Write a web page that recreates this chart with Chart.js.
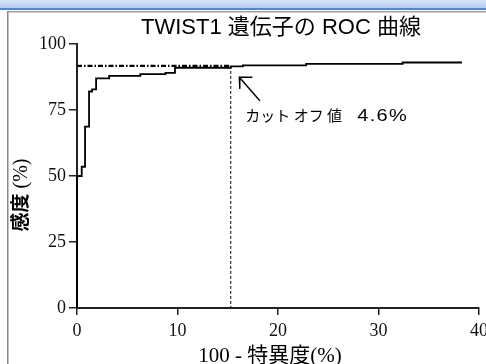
<!DOCTYPE html>
<html><head><meta charset="utf-8">
<script src="https://cdn.jsdelivr.net/npm/chart.js@4.4.1/dist/chart.umd.min.js"></script>
<style>html,body{margin:0;padding:0;background:#fff;overflow:hidden}#wrap{width:486px;height:364px;position:relative}</style>
</head><body><div id="wrap"><canvas id="c" width="486" height="364"></canvas></div>
<script>
// ---- data ----
const rocX = [0, 0, 0.47, 0.8, 1.2, 1.5, 1.9, 3.2, 6.3, 8.8, 9.75, 15.3, 16.5, 22.8, 32.4, 38.3];
const rocY = [0, 50, 53.5, 68.7, 82, 82.8, 87, 87.9, 88.6, 89.1, 91.0, 91.5, 91.9, 92.5, 93.0, 93.0];
const cutoffX = 15.3;
const cutoffY = 91.7;
const xTicks = [0, 10, 20, 30, 40];
const yTicks = [0, 25, 50, 75, 100];
const arrowTail = [18.2, 78.5];
const arrowTip = [16.15, 87.4];
const arrowArmA = [17.45, 87.4];
const arrowArmB = [16.2, 83.0];
const noteAt = [16.75, 71.0];
const titleText = 'TWIST1 遺伝子の ROC 曲線';
const xTitle = '100 - 特異度(%)';
const yTitleMain = '感度';
const yTitleUnit = ' (%)';
const noteText = 'カット オフ 値';
const noteValue = '4.6%';

const pts = (xs, ys) => xs.map((x, i) => ({x, y: ys[i]}));
const line = (data, opts) => Object.assign({data, showLine: true, pointRadius: 0, borderColor: '#000', fill: false, clip: false}, opts);

const deco = {
  id: 'deco',
  beforeDraw(chart) {
    const ctx = chart.ctx, W = chart.width, H = chart.height;
    ctx.save();
    ctx.fillStyle = '#fff'; ctx.fillRect(0, 0, W, H);
    const g = ctx.createLinearGradient(0, 0, 0, 8);
    g.addColorStop(0, '#d6e5f8'); g.addColorStop(1, '#b3ccee');
    ctx.fillStyle = g; ctx.fillRect(0, 0, W, 8);
    ctx.fillStyle = '#5b86c2'; ctx.fillRect(0, 8, W, 2);
    ctx.fillStyle = '#a0a0a0'; ctx.fillRect(7, 11, W - 7, 1.5);
    ctx.fillStyle = '#888'; ctx.fillRect(7, 11, 1.5, H - 11);
    ctx.restore();
  },
  afterDraw(chart) {
    const ctx = chart.ctx, xs = chart.scales.x, ys = chart.scales.y;
    ctx.save();
    ctx.fillStyle = '#000';
    // title
    ctx.font = '22px "Liberation Sans", "Noto Sans CJK JP", sans-serif';
    ctx.textAlign = 'center'; ctx.textBaseline = 'alphabetic';
    ctx.fillText(titleText, 281, 34);
    // x title
    ctx.font = '21px "Liberation Serif", "Noto Sans CJK JP", serif';
    ctx.fillText(xTitle, 270, 362);
    // y title rotated
    ctx.save();
    ctx.translate(27, 195);
    ctx.rotate(-Math.PI / 2);
    ctx.textAlign = 'left';
    ctx.font = 'bold 19px "Noto Sans CJK JP", sans-serif';
    const w1 = ctx.measureText(yTitleMain).width;
    ctx.font = '20px "Liberation Serif", serif';
    const w2 = ctx.measureText(yTitleUnit).width;
    const start = -(w1 + w2) / 2;
    ctx.font = 'bold 19px "Noto Sans CJK JP", sans-serif';
    ctx.fillText(yTitleMain, start, 0);
    ctx.font = '20px "Liberation Serif", serif';
    ctx.fillText(yTitleUnit, start + w1, 0);
    ctx.restore();
    // note
    const nx = xs.getPixelForValue(noteAt[0]), ny = ys.getPixelForValue(noteAt[1]);
    ctx.textAlign = 'left';
    ctx.font = '15px "Noto Sans CJK JP", sans-serif';
    ctx.fillText(noteText, nx, ny);
    ctx.save();
    ctx.translate(nx + 112, ny);
    ctx.scale(1.25, 1);
    ctx.font = '16px "Liberation Sans", sans-serif';
    ctx.letterSpacing = '1px';
    ctx.fillText(noteValue, 0, 0);
    ctx.restore();
    ctx.restore();
  }
};

new Chart(document.getElementById('c'), {
  type: 'scatter',
  data: {
    datasets: [
      line(pts(rocX, rocY), {stepped: 'before', borderWidth: 1.8}),
      line([{x: 0, y: cutoffY}, {x: cutoffX, y: cutoffY}], {borderWidth: 2.2, borderDash: [5, 2, 1.5, 2]}),
      line([{x: cutoffX, y: cutoffY}, {x: cutoffX, y: 0}], {borderWidth: 1, borderDash: [3, 2]}),
      line([{x: arrowTail[0], y: arrowTail[1]}, {x: arrowTip[0], y: arrowTip[1]}], {borderWidth: 1.4}),
      line([{x: arrowArmA[0], y: arrowArmA[1]}, {x: arrowTip[0], y: arrowTip[1]}, {x: arrowArmB[0], y: arrowArmB[1]}], {borderWidth: 1.4})
    ]
  },
  options: {
    responsive: false, animation: false, devicePixelRatio: 1,
    layout: {padding: {left: 0, top: 44, right: 7, bottom: 0}},
    plugins: {legend: {display: false}, tooltip: {enabled: false}, title: {display: false}},
    scales: {
      x: {
        type: 'linear', min: 0, max: 40,
        afterBuildTicks: s => { s.ticks = xTicks.map(v => ({value: v})); },
        afterFit: s => { s.height = 56; s.paddingLeft = 0; s.paddingRight = 0; },
        ticks: {font: {family: '"Liberation Serif"', size: 18}, color: '#111', padding: 5, maxRotation: 0, autoSkip: false},
        grid: {drawOnChartArea: false, drawTicks: true, tickLength: 7, color: '#222', lineWidth: 1.5},
        border: {display: true, color: '#222', width: 2}
      },
      y: {
        type: 'linear', min: 0, max: 100,
        afterBuildTicks: s => { s.ticks = yTicks.map(v => ({value: v})); },
        afterFit: s => { s.width = 77; s.paddingTop = 0; s.paddingBottom = 0; },
        ticks: {font: {family: '"Liberation Serif"', size: 18}, color: '#111', padding: 3, autoSkip: false},
        grid: {drawOnChartArea: false, drawTicks: true, tickLength: 8, color: '#222', lineWidth: 1.5},
        border: {display: true, color: '#222', width: 2}
      }
    }
  },
  plugins: [deco]
});
</script>
</body></html>
